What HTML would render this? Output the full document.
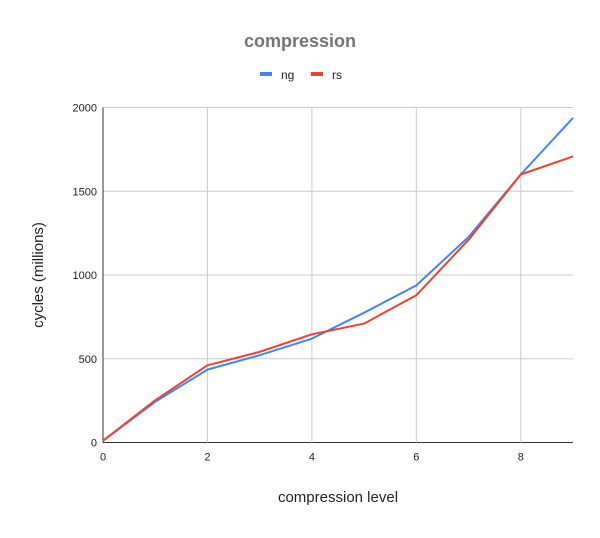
<!DOCTYPE html>
<html><head><meta charset="utf-8"><style>
body{margin:0;background:#fff;font-family:"Liberation Sans",Arial,sans-serif}
svg text{font-family:"Liberation Sans",Arial,sans-serif}
</style></head><body>
<svg width="600" height="533" viewBox="0 0 600 533">
<rect width="600" height="533" fill="#fff"/>
<text x="300" y="47" text-anchor="middle" font-size="18" font-weight="bold" fill="#757575">compression</text>
<g>
<rect x="260" y="72" width="12" height="4" fill="#4285f4"/>
<text x="281" y="79" font-size="12" fill="#222">ng</text>
<rect x="311" y="72" width="12" height="4" fill="#ea4335"/>
<text x="332" y="79" font-size="12" fill="#222">rs</text>
</g>
<g id="grid"></g>
<g id="series"></g>
<text x="338" y="502" text-anchor="middle" font-size="15" fill="#222">compression level</text>
<text transform="translate(43,275) rotate(-90)" text-anchor="middle" font-size="15" fill="#222">cycles (millions)</text>
</svg>
<script>
const levels=[0,1,2,3,4,5,6,7,8,9];
const ngValues=[10,243,435,521,620,775,938,1227,1600,1938];
const rsValues=[10,252,461,541,646,710,879,1210,1600,1708];
const xTicks=[0,2,4,6,8];
const yTicks=[0,500,1000,1500,2000];
const L=103,R=573,T=107.5,B=442.5;
const xs=v=>L+(R-L)*v/9;
const ys=v=>B-(B-T)*v/2000;
const NS="http://www.w3.org/2000/svg";
const grid=document.getElementById('grid'),ser=document.getElementById('series');
function mk(tag,attrs,parent){const e=document.createElementNS(NS,tag);for(const k in attrs)e.setAttribute(k,attrs[k]);parent.appendChild(e);return e;}
yTicks.forEach(t=>{
  const l=mk('line',{x1:L,x2:R,y1:ys(t),y2:ys(t),stroke:t===0?'#333':'#ccc','stroke-width':1},grid);
  
  
  const tx=mk('text',{x:L-6,y:ys(t)+4,'text-anchor':'end','font-size':11,fill:'#222'},grid);
  tx.textContent=t;
  
  
});
xTicks.forEach(t=>{
  if(t>0){const l=mk('line',{x1:xs(t),x2:xs(t),y1:T,y2:B,stroke:'#ccc','stroke-width':1},grid);
  
  }
  const tx=mk('text',{x:xs(t),y:B+18,'text-anchor':'middle','font-size':11,fill:'#222'},grid);
  tx.textContent=t;
  
  
});
const ax=mk('line',{x1:L,x2:L,y1:T,y2:B,stroke:'#333','stroke-width':1},grid);


function line(vals,color,name){
  const p=mk('polyline',{points:vals.map((v,i)=>xs(levels[i])+','+ys(v)).join(' '),fill:'none',stroke:color,'stroke-width':2,'stroke-linejoin':'round'},ser);
  
  
}
line(ngValues,'#4285f4','line-ng');
line(rsValues,'#ea4335','line-rs');
</script>
</body></html>
